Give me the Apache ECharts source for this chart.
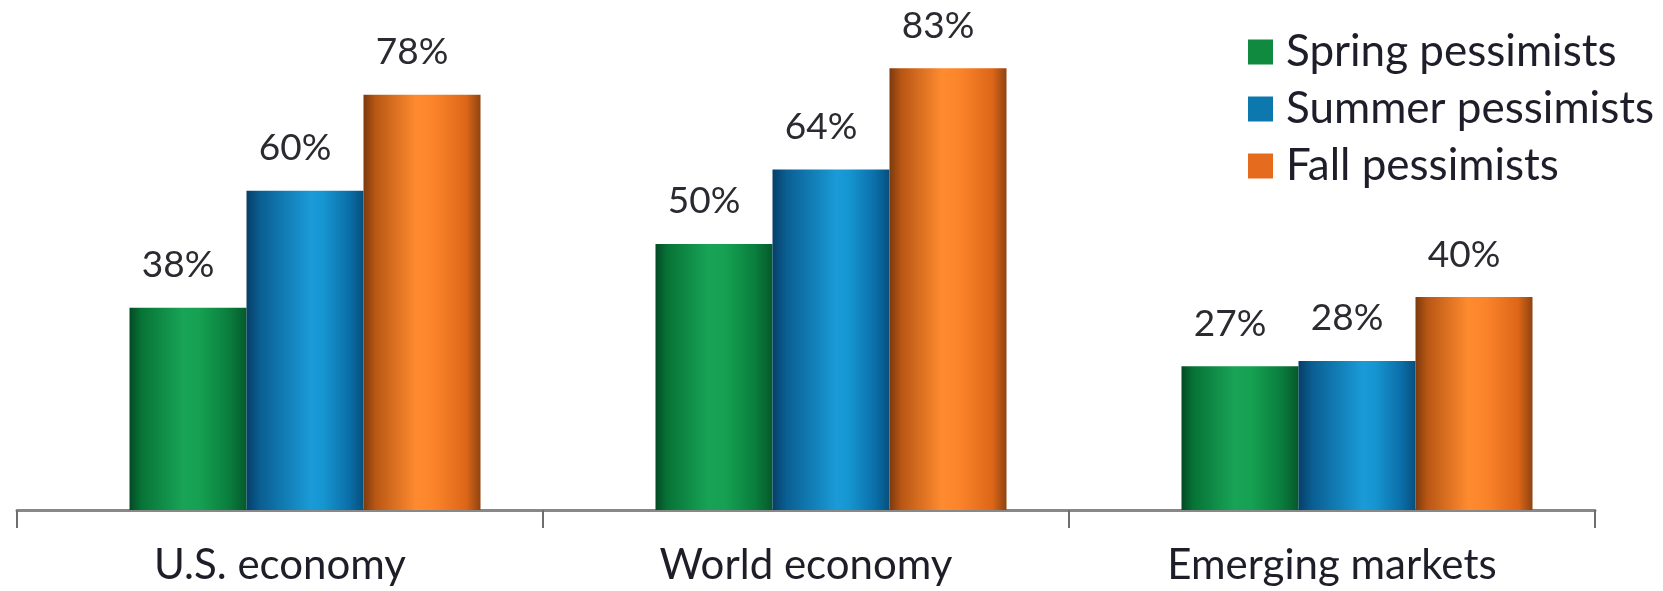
<!DOCTYPE html>
<html>
<head>
<meta charset="utf-8">
<style>
  html, body { margin: 0; padding: 0; background: #ffffff; }
  #chart { width: 1663px; height: 591px; }
</style>
<script src="https://cdn.jsdelivr.net/npm/echarts@6/dist/echarts.min.js"></script>
</head>
<body>
<div id="chart"></div>
<script>
// Share of pessimists by survey season
const categories = ['U.S. economy', 'World economy', 'Emerging markets'];
const seriesNames = ['Spring pessimists', 'Summer pessimists', 'Fall pessimists'];
const springValues = [38, 50, 27];
const summerValues = [60, 64, 28];
const fallValues = [78, 83, 40];

const FONT = 'Lato, "Open Sans", sans-serif';

function shade(stops) {
  return new echarts.graphic.LinearGradient(0, 0, 1, 0,
    stops.map(([offset, color]) => ({ offset, color })));
}

const greenFill = shade([[0, '#034a25'], [0.1, '#077336'], [0.45, '#18a356'], [0.6, '#15a052'], [0.85, '#0a7e3d'], [1, '#05592c']]);
const blueFill = shade([[0, '#063f68'], [0.12, '#0a5f93'], [0.55, '#1a9bd7'], [0.65, '#1696d1'], [0.88, '#0b6ea8'], [1, '#074f7d']]);
const orangeFill = shade([[0, '#7c3a0e'], [0.1, '#b85614'], [0.45, '#ff8b2f'], [0.6, '#fb842a'], [0.88, '#dc6618'], [1, '#8e4410']]);

const legendColors = ['#0f8a3f', '#0c78ad', '#e56c1f'];
const fills = [greenFill, blueFill, orangeFill];
const values = [springValues, summerValues, fallValues];

const chart = echarts.init(document.getElementById('chart'), null, { renderer: 'canvas' });

chart.setOption({
  animation: false,
  backgroundColor: '#ffffff',
  legend: {
    orient: 'vertical',
    left: 1243,
    top: 25,
    itemWidth: 25,
    itemHeight: 25,
    itemGap: 13,
    icon: 'rect',
    textStyle: {
      fontFamily: FONT,
      fontSize: 44,
      color: '#1e1e2a',
      padding: [0, 0, 0, 8]
    },
    data: seriesNames.map((name, i) => ({ name, itemStyle: { color: legendColors[i] } }))
  },
  grid: [
    // bars
    { left: 42, right: 43, top: 31, bottom: 81 },
    // baseline with category ticks and labels
    { left: 17, right: 68, top: 31, bottom: 81 }
  ],
  xAxis: [
    {
      type: 'category',
      gridIndex: 0,
      data: categories,
      axisLine: { show: false },
      axisTick: { show: false },
      axisLabel: { show: false }
    },
    {
      type: 'category',
      gridIndex: 1,
      data: categories,
      axisLine: { show: true, lineStyle: { color: '#888888', width: 3 } },
      axisTick: { show: true, length: 18, lineStyle: { color: '#6e6e6e', width: 2 } },
      axisLabel: {
        margin: 34,
        fontFamily: FONT,
        fontSize: 42,
        color: '#1e1e28'
      }
    }
  ],
  yAxis: [
    { type: 'value', gridIndex: 0, min: 0, max: 90, show: false },
    { type: 'value', gridIndex: 1, min: 0, max: 90, show: false }
  ],
  series: seriesNames.map((name, i) => ({
    name,
    type: 'bar',
    xAxisIndex: 0,
    yAxisIndex: 0,
    data: values[i],
    barWidth: 117,
    barGap: '0%',
    itemStyle: { color: fills[i] },
    label: {
      show: true,
      position: 'top',
      distance: 24,
      offset: [-10, 0],
      formatter: '{c}%',
      fontFamily: FONT,
      fontSize: 37,
      color: '#2a2a30'
    }
  }))
});
</script>
</body>
</html>
